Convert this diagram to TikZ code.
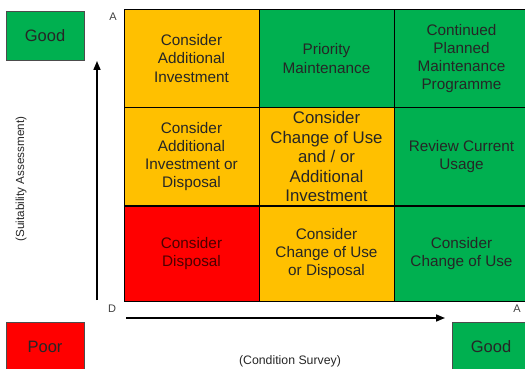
\documentclass[tikz,border=0pt]{standalone}
\usepackage{fontspec}
\setmainfont{Liberation Sans}
\usetikzlibrary{arrows.meta}
\definecolor{okgreen}{HTML}{00B050}
\definecolor{amber}{HTML}{FFC000}
\definecolor{badred}{HTML}{FF0000}
\tikzset{
  cell/.style={draw=black, line width=0.9pt, minimum width=135pt, minimum height=98pt,
    inner sep=0pt, align=center, font=\fontsize{15.3}{18.3}\selectfont, text=black!85},
  rating/.style={draw=black!70, line width=0.9pt, minimum width=78pt, minimum height=49pt,
    inner sep=0pt, font=\fontsize{16.5}{19}\selectfont, text=black!85},
  axis/.style={line width=1.6pt, -{Triangle[length=9pt,width=7pt]}},
  endmark/.style={font=\fontsize{11}{13}\selectfont, text=black!75}
}
\begin{document}
\begin{tikzpicture}[x=1pt,y=-1pt]
  \useasboundingbox (0,0) rectangle (525,369);
  \clip (0,0) rectangle (525,369);
  % quality ratings
  \node[rating, fill=okgreen] (goodS) at (45,35.5) {Good};
  \node[rating, fill=badred] (poor) at (45,347) {Poor};
  \node[rating, fill=okgreen] (goodC) at (491,347) {Good};
  % top row
  \node[cell, fill=amber] (c11) at (191.5,58.5) {Consider\\Additional\\Investment};
  \node[cell, fill=okgreen] (c12) at (326.5,58.5) {Priority\\Maintenance};
  \node[cell, fill=okgreen] (c13) at (461.5,58.5) {Continued\\Planned\\Maintenance\\Programme};
  % middle row
  \node[cell, fill=amber] (c21) at (191.5,156.5) {Consider\\Additional\\Investment or\\Disposal};
  \node[cell, fill=amber, font=\fontsize{16.8}{19.5}\selectfont] (c22) at (326.5,156.5)
    {Consider\\Change of Use\\and / or\\Additional\\Investment};
  \node[cell, fill=okgreen] (c23) at (461.5,156.5) {Review Current\\Usage};
  % bottom row
  \node[cell, fill=badred, minimum height=95pt, text=black!70!red] (c31) at (191.5,253.5) {Consider\\Disposal};
  \node[cell, fill=amber, minimum height=95pt] (c32) at (326.5,253.5) {Consider\\Change of Use\\or Disposal};
  \node[cell, fill=okgreen, minimum height=95pt] (c33) at (461.5,253.5) {Consider\\Change of Use};
  % axes
  \coordinate (yfrom) at (97,300);
  \coordinate (yto) at (97,61);
  \coordinate (xfrom) at (126,318);
  \coordinate (xto) at (445,318);
  \draw[axis] (yfrom) -- (yto);
  \draw[axis] (xfrom) -- (xto);
  \node[endmark] (topA) at (113,17) {A};
  \node[endmark] (origin) at (112,309) {D};
  \node[endmark] (rightA) at (517,309) {A};
  \node[rotate=90, font=\fontsize{11.7}{14}\selectfont, text=black!85] (suit) at (21,179) {(Suitability Assessment)};
  \node[font=\fontsize{12.3}{14}\selectfont, text=black!85] (cond) at (290,361) {(Condition Survey)};
\end{tikzpicture}
\end{document}
